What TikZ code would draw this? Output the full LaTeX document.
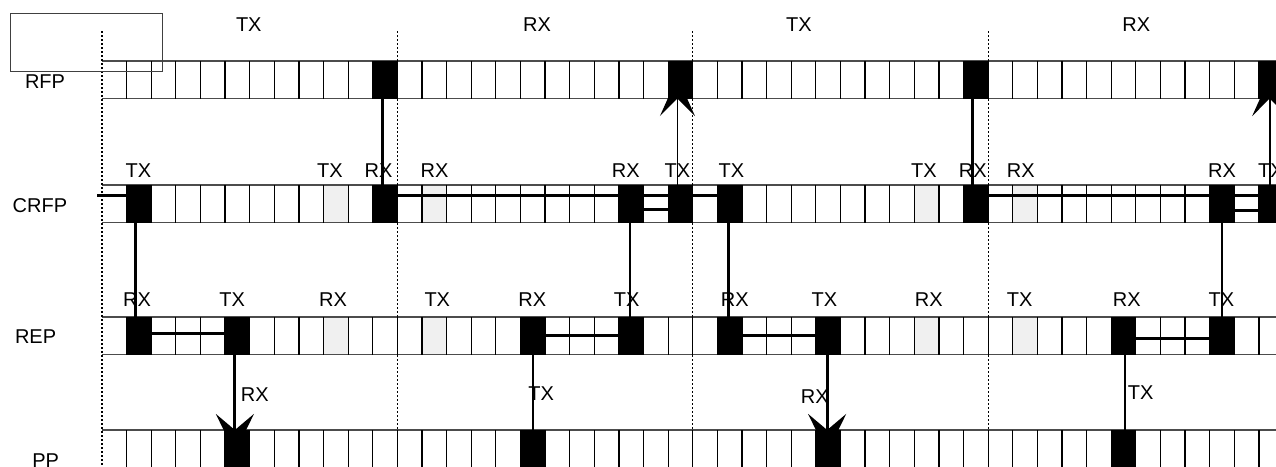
\documentclass[tikz,border=0pt]{standalone}
\usepackage{fontspec}
\setmainfont{Liberation Sans}
\usetikzlibrary{arrows.meta}
\begin{document}
\begin{tikzpicture}[x=1pt,y=-1pt,
  cell/.style={rectangle,inner sep=0pt,outer sep=0pt,minimum width=24.615pt,minimum height=37.5pt},
  hline/.style={draw=black!70,line width=1.2pt},
  vline/.style={draw=black,line width=1.3pt},
  gfill/.style={fill=black!6},
  thk/.style={draw=black,line width=3pt},
  thn/.style={draw=black,line width=1.8pt},
  bigup/.style={-{Stealth[length=39pt,width=35pt,inset=17.5pt]}},
  bigdown/.style={-{Stealth[length=39pt,width=38pt,inset=16pt]}},
  lbl/.style={inner sep=0pt,outer sep=0pt,anchor=base,font=\fontsize{20}{24}\selectfont},
  rowlbl/.style={lbl,anchor=base west},
  dotl/.style={draw=black,line width=1pt,dash pattern=on 2pt off 2pt},
  dotthick/.style={draw=black,line width=1.8pt,dash pattern=on 2pt off 2pt},
  frame/.style={draw=black!75,line width=1pt,inner sep=0pt,minimum width=152.3pt,minimum height=57.7pt}
]
\useasboundingbox (0,0) rectangle (1276,466);
\clip (0,0) rectangle (1276,466);
\fill[white] (0,0) rectangle (1276,466);

% cells
\foreach \rw/\yy in {r/79.75,c/203.75,e/335.75,p/448.75}{
  \foreach \k in {0,...,48}{
    \node[cell] (\rw\k) at ({102+(\k+0.5)*24.615},\yy) {};
  }
}
% light grey cells
\foreach \n in {c9,c13,c33,c37,e9,e13,e33,e37}
  \fill[gfill] (\n.north west) rectangle (\n.south east);
% grid
\foreach \rw in {r,c,e,p}{
  \draw[hline] (\rw0.north west) -- (\rw48.north east);
  \draw[hline] (\rw0.south west) -- (\rw48.south east);
  \foreach \k in {1,...,48}
    \draw[vline] (\rw\k.north west) -- (\rw\k.south west);
}
% black slots
\foreach \n in {r11,r23,r35,r47,c1,c11,c21,c23,c25,c35,c45,c47,e1,e5,e17,e21,e25,e29,e41,e45,p5,p17,p29,p41}
  \fill[black] (\n.north west) rectangle (\n.south east);

% frame boundaries (dotted)
\draw[dotthick] (102,31) -- (102,466);
\draw[dotl] (397.4,31) -- (397.4,466);
\draw[dotl] (692.6,31) -- (692.6,466);
\draw[dotl] (988.2,31) -- (988.2,466);

% top-left box
\node[frame] (box) at (86.15,42.15) {};

% labels
\node[lbl] (h1) at (248.8,31.7) {TX};
\node[lbl] (h2) at (537,31.7) {RX};
\node[lbl] (h3) at (798.8,31.7) {TX};
\node[lbl] (h4) at (1136.3,31.7) {RX};

\node[rowlbl] (lrfp) at (25,88.3) {RFP};
\node[rowlbl] (lcrfp) at (12.7,212) {CRFP};
\node[rowlbl] (lrep) at (15,343.3) {REP};
\node[rowlbl] (lpp) at (32.3,467) {PP};

\foreach \xx/\tt [count=\i] in {138.5/TX,330/TX,378.5/RX,434.5/RX,625.7/RX,677.5/TX,731.3/TX,923.8/TX,972.8/RX,1020.8/RX,1222/RX,1271/TX}
  \node[lbl] (cl\i) at (\xx,177.3) {\tt};
\foreach \xx/\tt [count=\i] in {137/RX,232.2/TX,333/RX,437.3/TX,532.2/RX,626.7/TX,734.8/RX,824.5/TX,928.8/RX,1019.7/TX,1126.7/RX,1221.3/TX}
  \node[lbl] (el\i) at (\xx,306) {\tt};
\node[lbl] (m1) at (254.7,401) {RX};
\node[lbl] (m2) at (541.2,400.7) {TX};
\node[lbl] (m3) at (814.7,403.3) {RX};
\node[lbl] (m4) at (1140.7,399.3) {TX};

% CRFP horizontal links
\coordinate (stub) at (97,195);
\draw[thk] (stub) -- ([yshift=8.75pt]c1.west);
\draw[thk] ([yshift=8.75pt]c11.east) -- ([yshift=8.75pt]c25.west);
\draw[thk] ([yshift=-5.75pt]c21.east) -- ([yshift=-5.75pt]c23.west);
\draw[thk] ([yshift=8.75pt]c35.east) -- ([yshift=8.75pt]c47.west);
\draw[thk] ([yshift=-6.5pt]c45.east) -- ([yshift=-6.5pt]c47.west);

% REP horizontal links
\draw[thk] ([yshift=2.25pt]e1.east) -- ([yshift=2.25pt]e5.west);
\draw[thk] ([yshift=0.45pt]e17.east) -- ([yshift=0.45pt]e21.west);
\draw[thk] ([yshift=0.45pt]e25.east) -- ([yshift=0.45pt]e29.west);
\draw[thk] ([yshift=-2.25pt]e41.east) -- ([yshift=-2.25pt]e45.west);

% vertical links RFP <-> CRFP
\draw[thk] ([xshift=-3pt]r11.south) -- ([xshift=-3pt]c11.north);
\draw[thn,bigup] ([xshift=-3pt]c23.north) -- ([xshift=-3pt,yshift=21.5pt]r23.south);
\draw[thk] ([xshift=-3pt]r35.south) -- ([xshift=-3pt]c35.north);
\draw[thn,bigup] ([xshift=-1.5pt]c47.north) -- ([xshift=-1.5pt,yshift=21.5pt]r47.south);

% CRFP <-> REP
\draw[thk] ([xshift=-3pt]c1.south) -- ([xshift=-3pt]e1.north);
\draw[thn] ([xshift=-1pt]c21.south) -- ([xshift=-1pt]e21.north);
\draw[thk] ([xshift=-1pt]c25.south) -- ([xshift=-1pt]e25.north);
\draw[thn] (c45.south) -- (e45.north);

% REP <-> PP
\draw[thk,bigdown] ([xshift=-2.5pt]e5.south) -- ([xshift=-2.5pt,yshift=-23pt]p5.north);
\draw[thn] (e17.south) -- (p17.north);
\draw[thk,bigdown] ([xshift=-1pt]e29.south) -- ([xshift=-1pt,yshift=-23pt]p29.north);
\draw[thn] ([xshift=1.5pt]e41.south) -- ([xshift=1.5pt]p41.north);
\end{tikzpicture}
\end{document}
